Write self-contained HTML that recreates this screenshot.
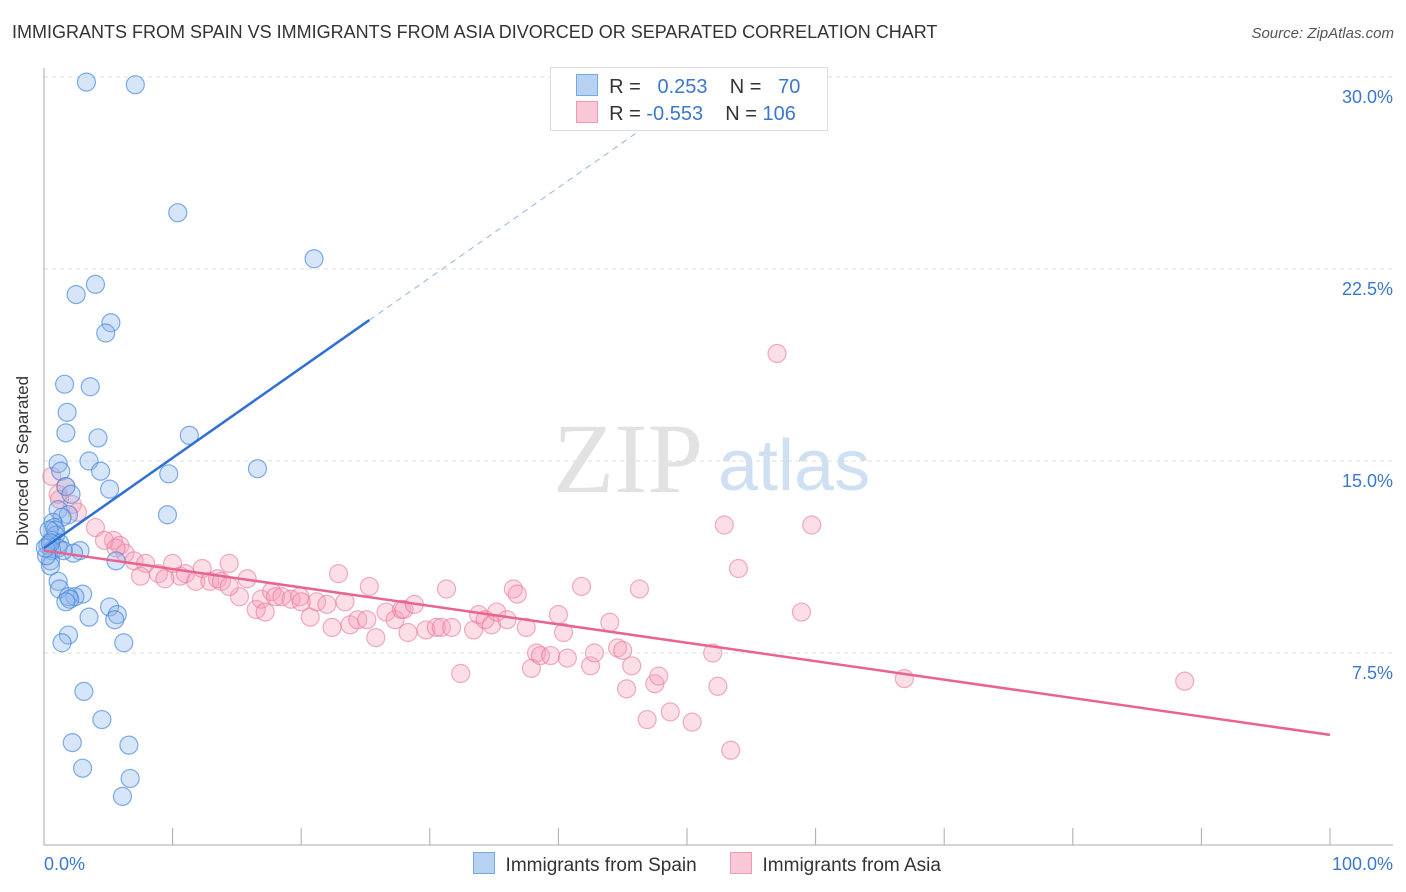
<!DOCTYPE html>
<html><head><meta charset="utf-8">
<style>
body{margin:0;background:#fff;font-family:"Liberation Sans",sans-serif;}
#wrap{position:relative;width:1406px;height:892px;overflow:hidden;}
.t{position:absolute;white-space:nowrap;}
</style></head>
<body>
<div id="wrap">
<div class="t" style="left:12px;top:22px;font-size:18px;color:#333;">IMMIGRANTS FROM SPAIN VS IMMIGRANTS FROM ASIA DIVORCED OR SEPARATED CORRELATION CHART</div>
<div class="t" style="right:12px;top:25px;font-size:15px;color:#555;font-style:italic;">Source: ZipAtlas.com</div>
<svg id="svg" width="1406" height="892" style="position:absolute;left:0;top:0">
<text x="553" y="492" font-size="100" font-family="Liberation Serif" fill="#e2e2e2">ZIP</text>
<text x="718" y="490" font-size="72" font-family="Liberation Sans" fill="#cfe0f3">atlas</text>
<g id="grid"></g><g id="pts"></g><g id="lines"></g>
<text x="22" y="455" font-size="17" fill="#333" transform="rotate(-90 28 455)" text-anchor="middle">Divorced or Separated</text>
<text x="44" y="870" font-size="18" fill="#3a78d0">0.0%</text>
<text x="1393" y="870" font-size="18" fill="#3a78d0" text-anchor="end">100.0%</text>
</svg>
<div style="position:absolute;left:550px;top:67px;width:276px;height:62px;border:1px solid #ddd;background:#fff;"></div>
<div class="t" style="left:576px;top:74px;font-size:20px;color:#333;">
<span style="display:inline-block;width:20px;height:20px;background:#b7d1f3;border:1px solid #7aa7e0;vertical-align:-3px"></span>
&nbsp;R = <span style="color:#3a78d0">&nbsp;&nbsp;0.253</span>&nbsp;&nbsp;&nbsp; N = <span style="color:#3a78d0">&nbsp;&nbsp;70</span></div>
<div class="t" style="left:576px;top:101px;font-size:20px;color:#333;">
<span style="display:inline-block;width:20px;height:20px;background:#f9c7d6;border:1px solid #ee9ab4;vertical-align:-3px"></span>
&nbsp;R = <span style="color:#3a78d0">-0.553</span>&nbsp;&nbsp;&nbsp; N = <span style="color:#3a78d0">106</span></div>
<div class="t" style="left:473px;top:852px;font-size:19px;color:#333;">
<span style="display:inline-block;width:20px;height:20px;background:#b7d1f3;border:1px solid #7aa7e0;vertical-align:-3px"></span>&nbsp; Immigrants from Spain
<span style="display:inline-block;width:20px;height:20px;background:#f9c7d6;border:1px solid #ee9ab4;vertical-align:-3px;margin-left:28px"></span>&nbsp; Immigrants from Asia</div>
</div>
<script>
const yTicks=[7.5,15,22.5,30];
const yTickLabels=["7.5%","15.0%","22.5%","30.0%"];
const blueX=[3.3,7.1,10.4,21.0,2.5,4.0,5.2,4.8,1.6,3.6,1.8,1.7,4.2,11.3,1.1,3.5,4.4,1.3,16.6,9.7,1.7,5.1,2.1,1.1,1.9,9.6,1.4,0.7,0.8,0.9,0.9,0.6,1.2,0.3,1.1,0.6,2.8,2.3,0.5,5.6,0.5,1.1,1.2,3.0,2.4,1.9,2.0,1.7,5.1,5.7,3.5,5.5,1.9,1.4,6.2,3.1,4.5,2.2,6.6,3.0,6.7,6.1,0.2,0.4,1.5,0.1,0.5];
const blueY=[29.8,29.7,24.7,22.9,21.5,21.9,20.4,20.0,18.0,17.9,16.9,16.1,15.9,16.0,14.9,15.0,14.6,14.6,14.7,14.5,14.0,13.9,13.7,13.1,12.9,12.9,12.8,12.6,12.4,12.3,12.1,11.9,11.8,11.7,11.6,11.5,11.5,11.4,11.1,11.1,10.9,10.3,10.0,9.8,9.7,9.7,9.6,9.5,9.3,9.0,8.9,8.8,8.2,7.9,7.9,6.0,4.9,4.0,3.9,3.0,2.6,1.9,11.3,12.3,11.5,11.6,11.8];
const pinkX=[57.0,0.6,1.7,1.1,2.2,2.6,4.0,1.2,5.4,4.7,5.9,6.3,5.6,7.0,7.9,7.5,8.9,10.0,10.6,11.0,11.8,9.4,12.3,12.9,13.5,14.4,13.8,15.2,15.8,16.5,16.9,17.7,18.0,18.5,19.2,19.9,20.7,21.2,22.4,22.0,22.9,23.4,23.8,24.4,25.1,25.3,25.8,26.6,27.3,27.8,28.0,28.3,28.8,29.7,30.5,30.9,31.3,31.7,32.4,33.4,33.8,34.3,34.8,35.2,36.0,36.5,36.8,37.5,38.3,37.9,38.6,39.4,40.0,40.4,40.7,41.8,42.5,42.8,44.0,44.6,45.0,45.3,45.7,46.3,46.9,47.5,47.8,48.7,50.4,52.0,52.4,52.9,53.4,54.0,58.9,59.7,66.9,88.7,14.4,17.2,20.0];
const pinkY=[19.2,14.4,14.0,13.7,13.3,13.0,12.4,13.5,11.9,11.9,11.7,11.4,11.6,11.1,11.0,10.5,10.6,11.0,10.5,10.6,10.3,10.4,10.8,10.3,10.4,11.0,10.3,9.7,10.4,9.2,9.6,9.9,9.7,9.7,9.6,9.7,8.9,9.5,8.5,9.4,10.6,9.5,8.6,8.8,8.8,10.1,8.1,9.1,8.8,9.2,9.2,8.3,9.4,8.4,8.5,8.5,10.0,8.5,6.7,8.4,9.0,8.8,8.6,9.1,8.8,10.0,9.8,8.5,7.5,6.9,7.4,7.4,9.0,8.3,7.3,10.1,7.0,7.5,8.7,7.7,7.6,6.1,7.0,10.0,4.9,6.3,6.6,5.2,4.8,7.5,6.2,12.5,3.7,10.8,9.1,12.5,6.5,6.4,10.1,9.1,9.5];
const blueLine=[11.6,0.352], pinkLine=[11.5,-0.072];
const X=v=>44+v*12.86, Y=v=>845-v*25.6;
const NS="http://www.w3.org/2000/svg";
const grid=document.getElementById('grid'),pts=document.getElementById('pts'),lines=document.getElementById('lines');
function mk(tag,attrs,parent){const e=document.createElementNS(NS,tag);for(const k in attrs)e.setAttribute(k,attrs[k]);parent.appendChild(e);return e;}
yTicks.forEach((t,i)=>{
 const g=mk('line',{x1:44,x2:1393,y1:Y(t),y2:Y(t),stroke:'#ddd','stroke-dasharray':'4,4'},grid);
 
 
 const tx=mk('text',{x:1393,y:Y(t)+26,'font-size':18,fill:'#3a78d0','text-anchor':'end'},grid);
 tx.textContent=yTickLabels[i];
 
 
});
const ax=mk('line',{x1:44,x2:44,y1:68,y2:845,stroke:'#aaa'},grid);


const bx=mk('line',{x1:44,x2:1393,y1:845,y2:845,stroke:'#aaa'},grid);


for(let i=1;i<=10;i++){const tk=mk('line',{x1:X(i*10),x2:X(i*10),y1:828,y2:845,stroke:'#aaa'},grid);
 
 }
pinkX.forEach((x,i)=>{const c=mk('circle',{cx:X(x),cy:Y(pinkY[i]),r:9,fill:'rgba(246,160,187,0.35)',stroke:'rgba(232,120,156,0.6)','stroke-width':1.2},pts);
 
 });
blueX.forEach((x,i)=>{const c=mk('circle',{cx:X(x),cy:Y(blueY[i]),r:9,fill:'rgba(140,180,235,0.35)',stroke:'rgba(60,130,220,0.65)','stroke-width':1.2},pts);
 
 });
const bl=mk('line',{x1:X(0),y1:Y(blueLine[0]),x2:X(25.3),y2:Y(blueLine[0]+blueLine[1]*25.3),stroke:'#2f6fd6','stroke-width':2.5},lines);


const bd=mk('line',{x1:X(25.3),y1:Y(blueLine[0]+blueLine[1]*25.3),x2:X(52),y2:Y(blueLine[0]+blueLine[1]*52),stroke:'#8fb4e8','stroke-width':1,'stroke-dasharray':'6,5'},lines);


const pl=mk('line',{x1:X(0),y1:Y(pinkLine[0]),x2:X(100),y2:Y(pinkLine[0]+pinkLine[1]*100),stroke:'#e8648f','stroke-width':2.5},lines);


</script>
</body></html>
